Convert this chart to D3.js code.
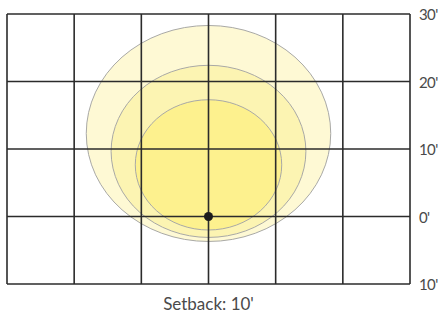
<!DOCTYPE html>
<html>
<head>
<meta charset="utf-8">
<script src="https://cdn.jsdelivr.net/npm/d3@7"></script>
<style>
  body { margin: 0; background: #fff; }
  text { font-family: Lato, "Open Sans", sans-serif; fill: #4a4a4a; }
  .y-label text { font-size: 15px; letter-spacing: -0.6px; }
  .caption { font-size: 17px; }
</style>
</head>
<body>
<div id="chart"></div>
<script>
// Grid in feet
var xTicks = [-30, -20, -10, 0, 10, 20, 30];
var yTicks = [30, 20, 10, 0, -10];
var yLabels = ["30'", "20'", "10'", "0'", "10'"];

// Light pattern zones, outer to inner (feet)
var zoneNames = ['outer', 'middle', 'inner'];
var zoneTop = [28.3, 22.4, 17.3];
var zoneBottom = [-3.7, -3.1, -2.0];
var zoneHalfWidth = [18.2, 14.5, 10.9];
var zoneColors = ['#fef9d4', '#fcf4b2', '#fdf18e'];

var fixture = {x: 0, y: 0};
var setbackLabel = "Setback: 10'";

var margin = {top: 14, bottom: 29, left: 7, right: 30};
var width = 440 - margin.left - margin.right;
var height = 313 - margin.top - margin.bottom;

var svg = d3.select('#chart').append('svg')
    .attr('width', 440)
    .attr('height', 313);

var g = svg.append('g')
    .attr('transform', `translate(${margin.left},${margin.top})`);

var xScale = d3.scaleLinear().domain([-30, 30]).range([0, width]);
var yScale = d3.scaleLinear().domain([-10, 30]).range([height, 0]);

// zones
var zones = zoneNames.map(function(n, i) {
    return {name: n, top: zoneTop[i], bottom: zoneBottom[i], hw: zoneHalfWidth[i], color: zoneColors[i]};
});

g.selectAll('ellipse.zone').data(zones).enter().append('ellipse')
    .attr('class', 'zone')
    .attr('cx', xScale(0))
    .attr('cy', (d) => yScale((d.top + d.bottom) / 2))
    .attr('rx', (d) => xScale(d.hw) - xScale(0))
    .attr('ry', (d) => (yScale(d.bottom) - yScale(d.top)) / 2)
    .attr('fill', (d) => d.color)
    .attr('stroke', '#a9a9a6')
    .attr('stroke-width', 1);

// grid
g.selectAll('line.vgrid').data(xTicks).enter().append('line')
    .attr('class', 'vgrid')
    .attr('x1', (d) => xScale(d)).attr('x2', (d) => xScale(d))
    .attr('y1', 0).attr('y2', height)
    .attr('stroke', '#2b2b2b').attr('stroke-width', 1.6);

g.selectAll('line.hgrid').data(yTicks).enter().append('line')
    .attr('class', 'hgrid')
    .attr('x1', 0).attr('x2', width)
    .attr('y1', (d) => yScale(d)).attr('y2', (d) => yScale(d))
    .attr('stroke', '#2b2b2b').attr('stroke-width', 1.6);

// y labels on right
var yAxis = d3.axisRight(yScale)
    .tickValues(yTicks)
    .tickSize(0)
    .tickPadding(9)
    .tickFormat((d, i) => yLabels[i]);

var gy = g.append('g')
    .attr('class', 'y-label')
    .attr('transform', `translate(${width},0)`)
    .call(yAxis);
gy.select('.domain').remove();
gy.selectAll('text')
    .attr('dy', '0.38em');

// fixture point
g.append('circle')
    .attr('cx', xScale(fixture.x))
    .attr('cy', yScale(fixture.y))
    .attr('r', 4.5)
    .attr('fill', '#1c1c1c');

// caption
svg.append('text')
    .attr('class', 'caption')
    .attr('x', margin.left + xScale(0))
    .attr('y', 310)
    .attr('text-anchor', 'middle')
    .text(setbackLabel);
</script>
</body>
</html>
